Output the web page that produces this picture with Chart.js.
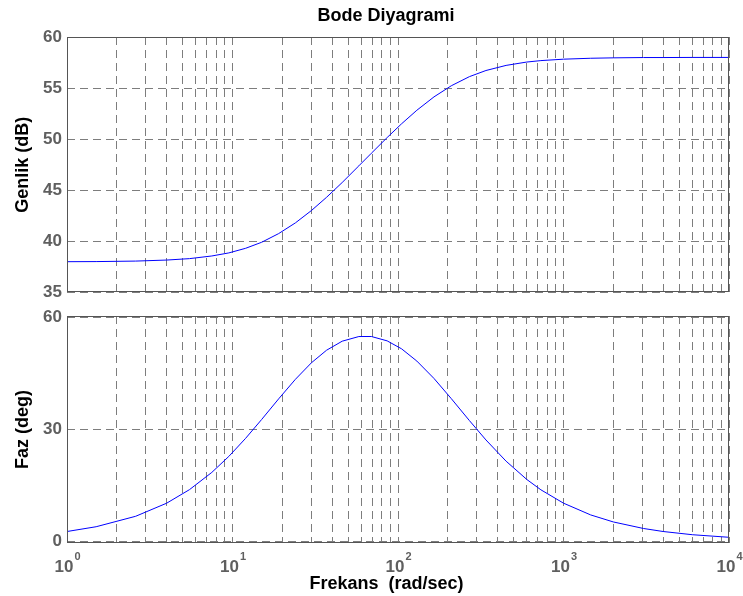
<!DOCTYPE html>
<html>
<head>
<meta charset="utf-8">
<script src="https://cdn.jsdelivr.net/npm/chart.js@4/dist/chart.umd.min.js"></script>
<style>
html, body { margin: 0; padding: 0; background: #fff; }
#wrap { position: relative; width: 743px; height: 596px; }
canvas { position: absolute; left: 0; }
</style>
</head>
<body>
<div id="wrap">
  <canvas id="mag" width="743" height="300" style="top:0"></canvas>
  <canvas id="phase" width="743" height="296" style="top:300px"></canvas>
</div>
<script>
// frequency samples (rad/sec) and values
const freq = [1, 1.5, 2.6, 4, 5.5, 7.5, 9.5, 12, 15, 19, 24, 30, 37, 46, 58, 69, 86, 105, 130, 165,
              210, 270, 340, 450, 600, 730, 1000, 1460, 2000, 3040, 4000, 6000, 10000];
const magDb = [38.01, 38.02, 38.07, 38.17, 38.31, 38.57, 38.87, 39.32, 39.91, 40.76, 41.81, 43.02,
               44.31, 45.76, 47.39, 48.62, 50.16, 51.50, 52.83, 54.14, 55.23, 56.12, 56.72, 57.22,
               57.55, 57.69, 57.83, 57.92, 57.96, 57.99, 57.99, 58.0, 58.0];
const phaseDeg = [2.58, 3.86, 6.66, 10.16, 13.80, 18.41, 22.69, 27.53, 32.58, 38.10, 43.35, 47.78,
                  51.13, 53.55, 54.80, 54.81, 53.64, 51.52, 48.23, 43.57, 38.16, 32.29, 27.10, 21.41,
                  16.52, 13.75, 10.17, 7.02, 5.14, 3.39, 2.58, 1.72, 1.03];

const decades = [1, 10, 100, 1000, 10000];
const decadeExp = ['0', '1', '2', '3', '4'];
const magTicks = [35, 40, 45, 50, 55, 60];
const phaseTicks = [0, 30, 60];

const FONT = '"Liberation Sans", Arial, sans-serif';
const TICK_COLOR = '#5f5f5f';
const GRID_COLOR = '#7d7d7d';

// grid at 1..9 x each decade
const xGrid = [];
decades.forEach((d, i) => {
  if (i < decades.length - 1) {
    for (let m = 1; m <= 9; m++) xGrid.push(d * m);
  } else {
    xGrid.push(d);
  }
});

// box around the axes, figure title, x label and 10^n tick labels
const frame = {
  id: 'frame',
  afterDraw(chart, args, opts) {
    const { ctx, chartArea: a } = chart;
    ctx.save();
    ctx.strokeStyle = '#555';
    ctx.lineWidth = 1;
    ctx.strokeRect(Math.round(a.left) + 0.5, Math.round(a.top) + 0.5,
                   Math.round(a.right - a.left) - 1, Math.round(a.bottom - a.top) - 1);

    ctx.fillStyle = '#000';
    ctx.font = 'bold 18px ' + FONT;
    ctx.textAlign = 'center';
    ctx.textBaseline = 'middle';
    if (opts.title) ctx.fillText(opts.title, 386, 16);
    if (opts.xLabel) ctx.fillText(opts.xLabel, 386.5, a.bottom + 41);

    if (opts.decadeLabels) {
      const xs = chart.scales.x;
      ctx.fillStyle = TICK_COLOR;
      ctx.textBaseline = 'alphabetic';
      ctx.textAlign = 'left';
      decades.forEach((d, i) => {
        const px = xs.getPixelForValue(d);
        ctx.font = 'bold 17px ' + FONT;
        const w1 = ctx.measureText('10').width;
        ctx.font = 'bold 11px ' + FONT;
        const w2 = ctx.measureText(decadeExp[i]).width;
        const x0 = px - (w1 + w2) / 2;
        const base = a.bottom + 29;
        ctx.font = 'bold 17px ' + FONT;
        ctx.fillText('10', x0, base);
        ctx.font = 'bold 11px ' + FONT;
        ctx.fillText(decadeExp[i], x0 + w1 + 1, base - 12);
      });
    }
    ctx.restore();
  }
};

function xAxis(height) {
  return {
    type: 'logarithmic',
    min: 1,
    max: 10000,
    afterBuildTicks: s => { s.ticks = xGrid.map(v => ({ value: v })); },
    afterFit: s => { s.height = height; },
    ticks: { display: false },
    grid: { color: GRID_COLOR, lineWidth: 1, drawTicks: false },
    border: { display: false, dash: [8, 5] }
  };
}

function yAxis(min, max, ticks, label) {
  return {
    min: min,
    max: max,
    afterBuildTicks: s => { s.ticks = ticks.map(v => ({ value: v })); },
    afterFit: s => { s.width = 67; },
    ticks: {
      color: TICK_COLOR,
      padding: 5,
      font: { family: FONT, size: 17, weight: 'bold', lineHeight: 0.3 }
    },
    grid: { color: GRID_COLOR, lineWidth: 1, drawTicks: false },
    border: { display: false, dash: [8, 5] },
    title: {
      display: true,
      text: label,
      color: '#000',
      font: { family: FONT, size: 18, weight: 'bold', lineHeight: 1.2 },
      padding: { top: 12, bottom: 0 }
    }
  };
}

function points(ys) {
  return freq.map((f, i) => ({ x: f, y: ys[i] }));
}

new Chart(document.getElementById('mag'), {
  type: 'line',
  data: {
    datasets: [{
      data: points(magDb),
      borderColor: '#0000ff',
      borderWidth: 1,
      pointRadius: 0,
      tension: 0
    }]
  },
  options: {
    responsive: false,
    animation: false,
    layout: { padding: { left: 0, right: 14, top: 37, bottom: 0 } },
    scales: {
      x: xAxis(7),
      y: yAxis(35, 60, magTicks, 'Genlik (dB)')
    },
    plugins: {
      legend: { display: false },
      tooltip: { enabled: false },
      frame: { title: 'Bode Diyagrami', decadeLabels: false }
    }
  },
  plugins: [frame]
});

new Chart(document.getElementById('phase'), {
  type: 'line',
  data: {
    datasets: [{
      data: points(phaseDeg),
      borderColor: '#0000ff',
      borderWidth: 1,
      pointRadius: 0,
      tension: 0
    }]
  },
  options: {
    responsive: false,
    animation: false,
    layout: { padding: { left: 0, right: 14, top: 16, bottom: 0 } },
    scales: {
      x: xAxis(53),
      y: yAxis(-0.5, 60.3, phaseTicks, 'Faz (deg)')
    },
    plugins: {
      legend: { display: false },
      tooltip: { enabled: false },
      frame: { xLabel: 'Frekans  (rad/sec)', decadeLabels: true }
    }
  },
  plugins: [frame]
});
</script>
</body>
</html>
